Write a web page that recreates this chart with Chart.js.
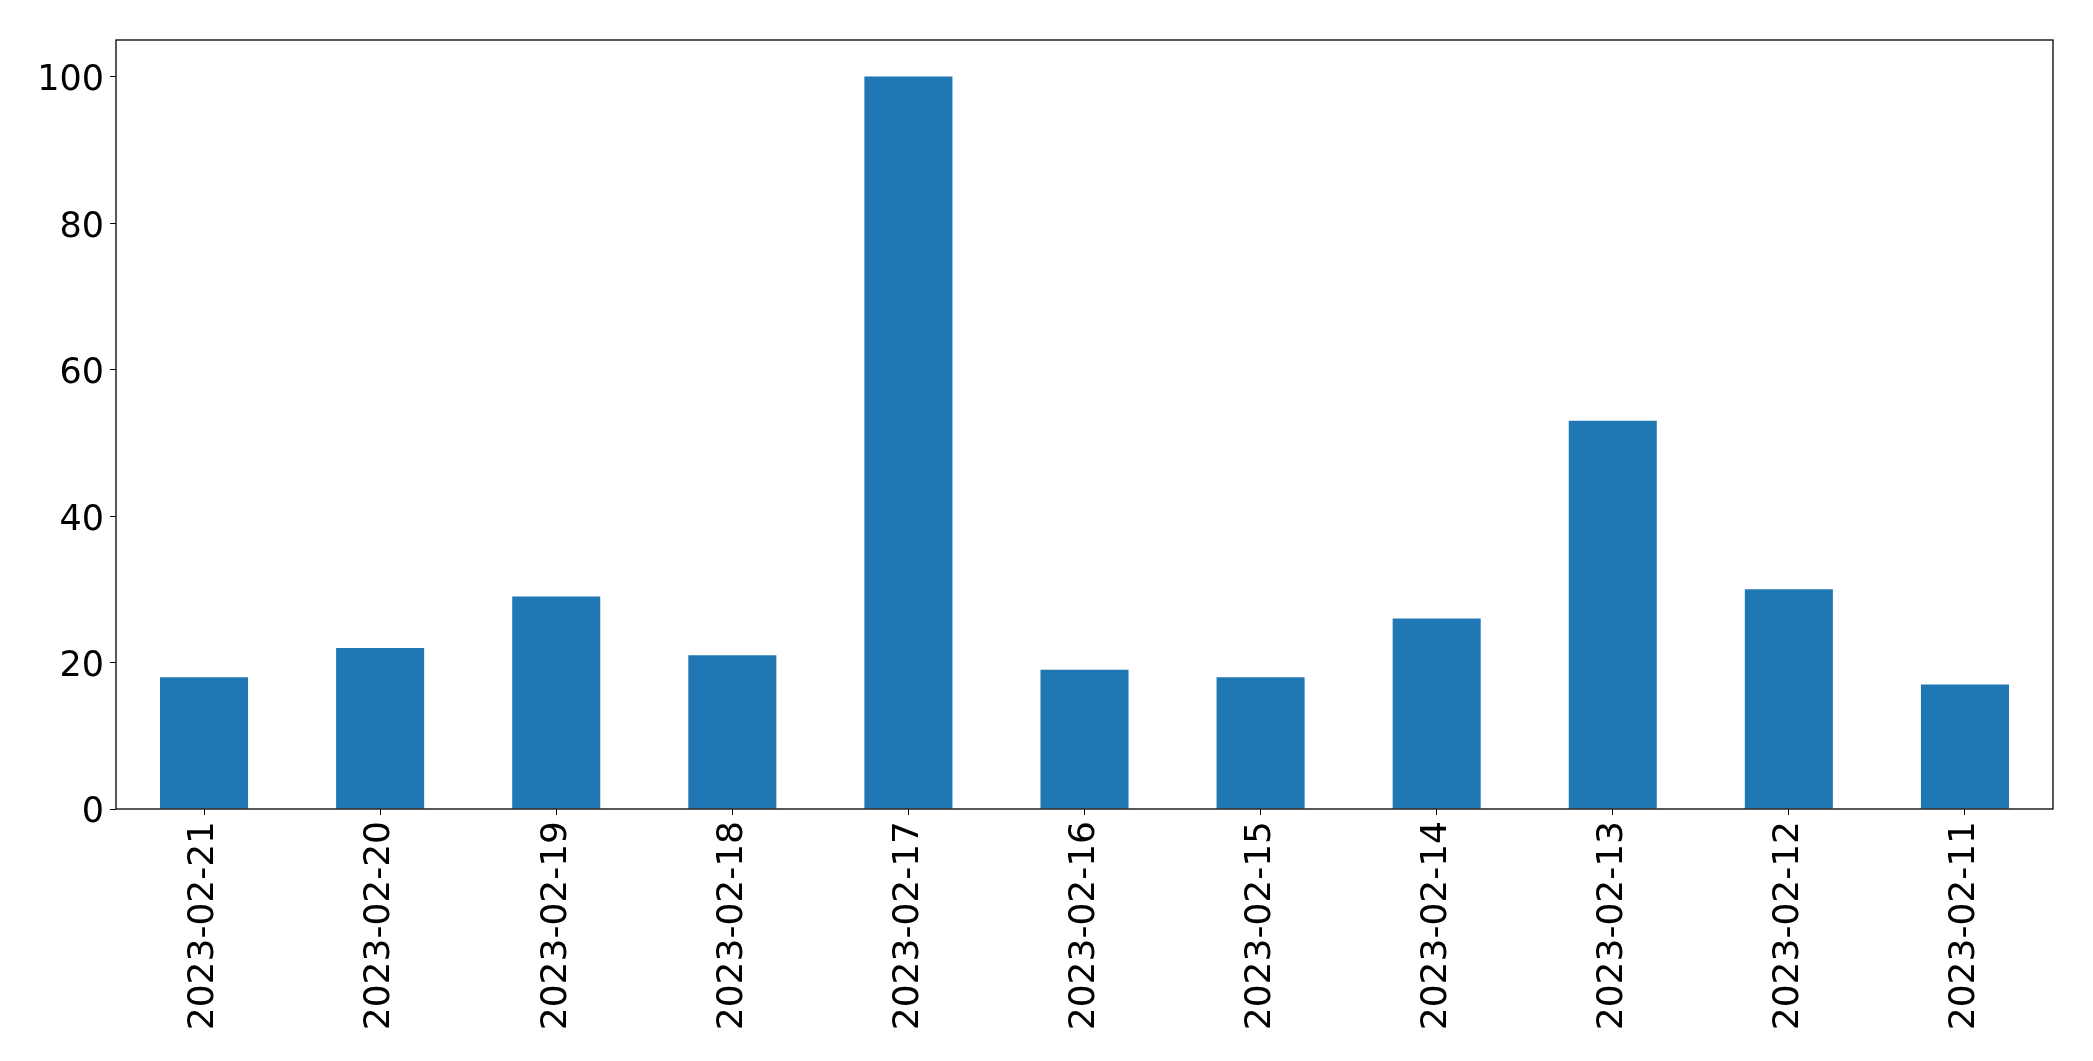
<!DOCTYPE html>
<html>
<head>
<meta charset="utf-8">
<script src="https://cdn.jsdelivr.net/npm/chart.js@4.4.0/dist/chart.umd.min.js"></script>
<style>
  html, body { margin: 0; padding: 0; background: #fff; }
  #wrap { width: 2093px; height: 1061px; position: relative; }
</style>
</head>
<body>
<div id="wrap"><canvas id="myChart"></canvas></div>
<script>
  // dates as they appear on the x axis (newest first)
  const dates = ['2023-02-21', '2023-02-20', '2023-02-19', '2023-02-18', '2023-02-17',
    '2023-02-16', '2023-02-15', '2023-02-14', '2023-02-13', '2023-02-12', '2023-02-11'];
  const counts = [18, 22, 29, 21, 100, 19, 18, 26, 53, 30, 17];
  const yTicks = [0, 20, 40, 60, 80, 100];

  // matplotlib style box round the axes
  const boxPlugin = {
    id: 'box',
    afterDraw(chart) {
      const a = chart.chartArea;
      const c = chart.ctx;
      c.save();
      c.strokeStyle = '#000';
      c.lineWidth = 1.3;
      c.strokeRect(a.left, a.top, a.right - a.left, a.bottom - a.top);
      c.restore();
    }
  };

  const ctx = document.getElementById('myChart');

  new Chart(ctx, {
    type: 'bar',
    data: {
      labels: dates,
      datasets: [{
        data: counts,
        backgroundColor: '#1f77b4',
        borderWidth: 0,
        categoryPercentage: 0.5,
        barPercentage: 1.0
      }]
    },
    options: {
      responsive: true,
      maintainAspectRatio: false,
      animation: false,
      layout: { padding: { left: 0, top: 40, right: 40, bottom: 0 } },
      plugins: {
        legend: { display: false },
        tooltip: { enabled: false }
      },
      scales: {
        x: {
          offset: true,
          grid: { display: true, drawOnChartArea: false, drawTicks: true, tickLength: 6, color: '#000', offset: false },
          border: { display: false },
          ticks: {
            color: '#000',
            font: { family: 'DejaVu Sans', size: 36 },
            minRotation: 90,
            maxRotation: 90,
            padding: 6,
            autoSkip: false
          },
          afterFit: function(scale) { scale.height = 1061 - 809; }
        },
        y: {
          min: 0,
          max: 105,
          afterBuildTicks: function(scale) {
            scale.ticks = yTicks.map(v => ({ value: v }));
          },
          grid: { display: true, drawOnChartArea: false, drawTicks: true, tickLength: 6, color: '#000' },
          border: { display: false },
          ticks: {
            color: '#000',
            font: { family: 'DejaVu Sans', size: 35, lineHeight: 0.25 },
            padding: 6,
            // empty first line nudges the number down a little, like matplotlib's center_baseline
            callback: function(v) { return ['', String(v)]; }
          },
          afterFit: function(scale) { scale.width = 116; }
        }
      }
    },
    plugins: [boxPlugin]
  });
</script>
</body>
</html>
